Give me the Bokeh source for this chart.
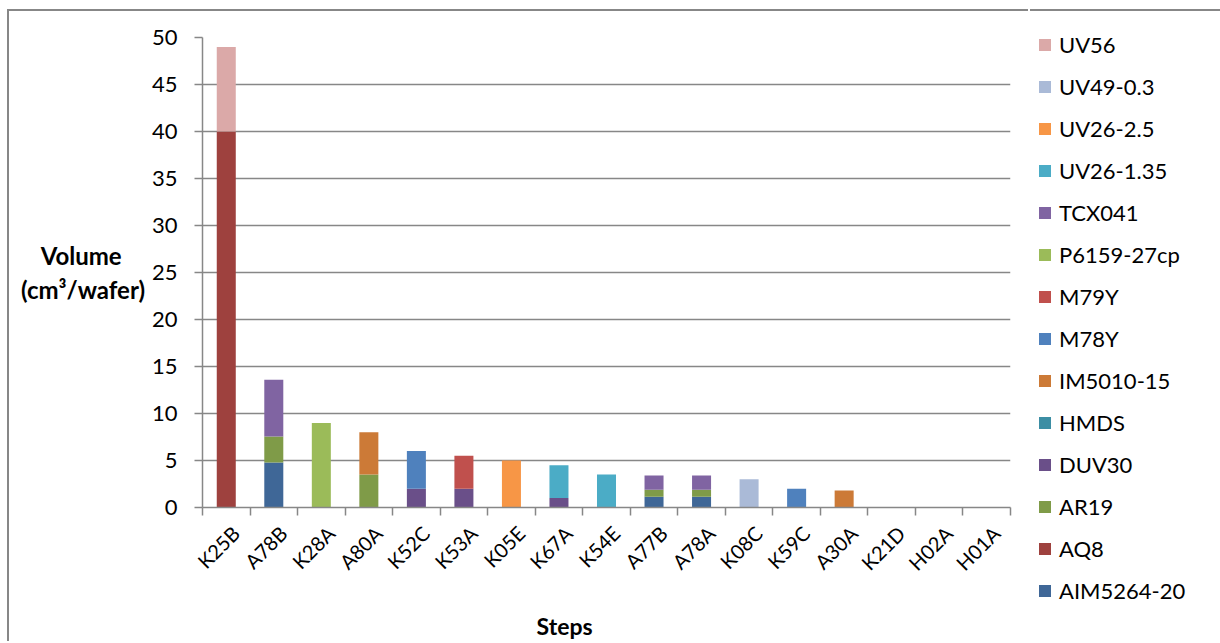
import math
from bokeh.plotting import figure
from bokeh.models import (Range1d, FixedTicker, Legend, LegendItem,
                          ColumnDataSource)
from bokeh.embed import file_html
from bokeh.resources import INLINE

# ---------------- data ----------------
steps = ["K25B", "A78B", "K28A", "A80A", "K52C", "K53A", "K05E", "K67A",
         "K54E", "A77B", "A78A", "K08C", "K59C", "A30A", "K21D", "H02A", "H01A"]

# stack order: bottom -> top
series_names = ["AIM5264-20", "AQ8", "AR19", "DUV30", "HMDS", "IM5010-15",
                "M78Y", "M79Y", "P6159-27cp", "TCX041", "UV26-1.35",
                "UV26-2.5", "UV49-0.3", "UV56"]

AIM5264_20 = [0, 4.8, 0, 0, 0, 0, 0, 0, 0, 1.15, 1.15, 0, 0, 0, 0, 0, 0]
AQ8        = [40, 0, 0, 0, 0, 0, 0, 0, 0, 0, 0, 0, 0, 0, 0, 0, 0]
AR19       = [0, 2.75, 0, 3.5, 0, 0, 0, 0, 0, 0.75, 0.75, 0, 0, 0, 0, 0, 0]
DUV30      = [0, 0, 0, 0, 2, 2, 0, 1, 0, 0, 0, 0, 0, 0, 0, 0, 0]
HMDS       = [0, 0, 0, 0, 0, 0, 0, 0, 0, 0, 0, 0, 0, 0, 0, 0, 0]
IM5010_15  = [0, 0, 0, 4.5, 0, 0, 0, 0, 0, 0, 0, 0, 0, 1.8, 0, 0, 0]
M78Y       = [0, 0, 0, 0, 4, 0, 0, 0, 0, 0, 0, 0, 2, 0, 0, 0, 0]
M79Y       = [0, 0, 0, 0, 0, 3.5, 0, 0, 0, 0, 0, 0, 0, 0, 0, 0, 0]
P6159_27cp = [0, 0, 9, 0, 0, 0, 0, 0, 0, 0, 0, 0, 0, 0, 0, 0, 0]
TCX041     = [0, 6.05, 0, 0, 0, 0, 0, 0, 0, 1.5, 1.5, 0, 0, 0, 0, 0, 0]
UV26_1_35  = [0, 0, 0, 0, 0, 0, 0, 3.5, 3.5, 0, 0, 0, 0, 0, 0, 0, 0]
UV26_2_5   = [0, 0, 0, 0, 0, 0, 5, 0, 0, 0, 0, 0, 0, 0, 0, 0, 0]
UV49_0_3   = [0, 0, 0, 0, 0, 0, 0, 0, 0, 0, 0, 3, 0, 0, 0, 0, 0]
UV56       = [9, 0, 0, 0, 0, 0, 0, 0, 0, 0, 0, 0, 0, 0, 0, 0, 0]

series_values = [AIM5264_20, AQ8, AR19, DUV30, HMDS, IM5010_15, M78Y, M79Y,
                 P6159_27cp, TCX041, UV26_1_35, UV26_2_5, UV49_0_3, UV56]

colors = ["#3F6797", "#9E413E", "#7F9B48", "#6A4F89", "#3C8EA4", "#CC7A37",
          "#4F81BD", "#C0504D", "#9BBB59", "#8064A2", "#4BACC6", "#F79646",
          "#AABAD7", "#DBA9A8"]

y_ticks = list(range(0, 55, 5))

# ---------------- main figure ----------------
FONT = "Lato"
GRAY = "#878787"
NBSP = "\u00a0"

centers = [i + 0.5 for i in range(len(steps))]
data = {"x": centers}
keys = []
for i, vals in enumerate(series_values):
    k = "s%d" % i
    keys.append(k)
    data[k] = vals
source = ColumnDataSource(data)

p = figure(width=1021, height=632, output_backend="svg", toolbar_location=None,
           x_range=Range1d(0, len(steps)), y_range=Range1d(0, 50),
           min_border_left=193, min_border_right=20, min_border_top=26,
           min_border_bottom=136)
p.outline_line_color = None
p.background_fill_color = "white"
p.border_fill_color = "white"
p.styles = {"margin-left": "7px", "margin-top": "9px",
            "border-top": "2px solid #878787",
            "border-left": "2px solid #878787"}

p.vbar_stack(keys, x="x", width=0.4, source=source, color=colors,
             line_color=None)

# grid
p.xgrid.visible = False
p.ygrid.ticker = FixedTicker(ticks=y_ticks)
p.ygrid.grid_line_color = GRAY
p.ygrid.grid_line_width = 1.5

# y axis
ya = p.yaxis[0]
ya.ticker = FixedTicker(ticks=y_ticks)
ya.axis_line_color = GRAY
ya.axis_line_width = 1.5
ya.major_tick_line_color = GRAY
ya.major_tick_line_width = 1.5
ya.major_tick_out = 8
ya.major_tick_in = 0
ya.minor_tick_line_color = None
ya.major_label_text_font = FONT
ya.major_label_text_font_size = "22px"
ya.major_label_text_color = "black"
ya.major_label_standoff = 17
ya.axis_label = "Volume" + NBSP * 4 + "\n(cm³/wafer)"
ya.axis_label_orientation = "horizontal"
ya.axis_label_text_font = FONT
ya.axis_label_text_font_size = "24px"
ya.axis_label_text_font_style = "bold"
ya.axis_label_text_color = "black"
ya.axis_label_standoff = 4

# x axis: labels near category centres, tick marks at category boundaries
label_pos = [c + 0.2 for c in centers]
xa = p.xaxis[0]
xa.ticker = FixedTicker(ticks=label_pos, minor_ticks=list(range(len(steps) + 1)))
xa.major_label_overrides = {c: s for c, s in zip(label_pos, steps)}
xa.axis_line_color = GRAY
xa.axis_line_width = 1.5
xa.major_tick_out = 0
xa.major_tick_in = 0
xa.major_tick_line_color = None
xa.minor_tick_line_color = GRAY
xa.minor_tick_line_width = 1.5
xa.minor_tick_out = 8
xa.minor_tick_in = 0
xa.major_label_orientation = math.pi / 4
xa.major_label_text_font = FONT
xa.major_label_text_font_size = "20px"
xa.major_label_text_color = "black"
xa.major_label_standoff = 14
xa.axis_label = "Steps" + NBSP * 15
xa.axis_label_text_font = FONT
xa.axis_label_text_font_size = "23px"
xa.axis_label_text_font_style = "bold"
xa.axis_label_text_color = "black"
xa.axis_label_standoff = 26

# ---------------- legend (separate canvas on the right) ----------------
q = figure(width=190, height=632, output_backend="svg", toolbar_location=None,
           x_range=Range1d(0, 1), y_range=Range1d(0, 1),
           x_axis_location=None, y_axis_location=None, min_border=0)
q.outline_line_color = None
q.grid.visible = False
q.background_fill_color = "white"
q.border_fill_color = "white"
q.styles = {"position": "absolute", "left": "1030px", "top": "9px",
            "border-top": "2px solid #878787"}

proxies = []
for name, c in zip(series_names, colors):
    # invisible zero-height proxy bar, only used for the legend swatch
    r = q.vbar(x=[0], top=[0], width=0.01, color=c, line_color=None)
    proxies.append(LegendItem(label=name, renderers=[r]))
items = proxies[::-1]  # top of legend = top of stack

legend = Legend(items=items, location=(7, 39))
legend.background_fill_alpha = 0
legend.border_line_color = None
legend.padding = 10
legend.margin = 0
legend.glyph_width = 15
legend.glyph_height = 15
legend.label_height = 21
legend.spacing = 15
legend.label_standoff = 7
legend.label_text_font = FONT
legend.label_text_font_size = "22px"
legend.label_text_color = "black"
q.add_layout(legend, "center")

open("out.html", "w").write(file_html([p, q], INLINE))
